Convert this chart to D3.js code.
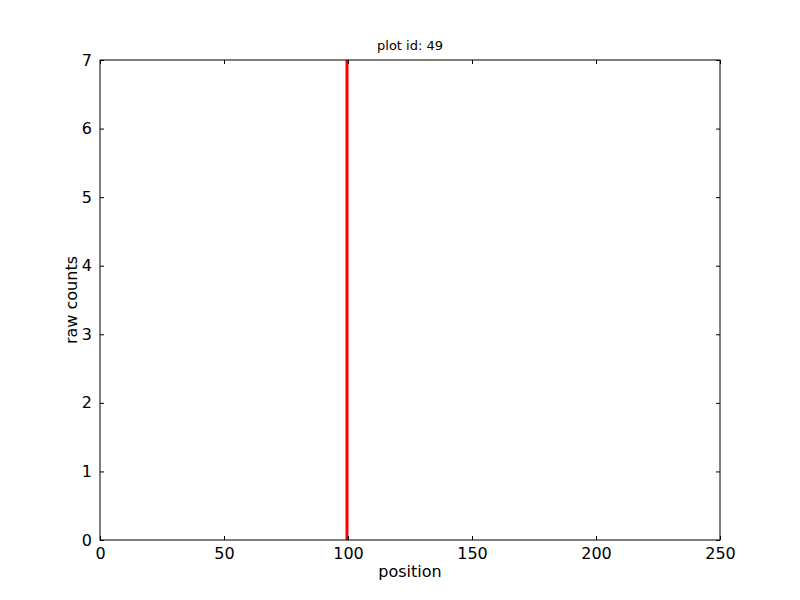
<!DOCTYPE html>
<html>
<head>
<meta charset="utf-8">
<script src="https://cdn.jsdelivr.net/npm/d3@7"></script>
<style>
  body { margin: 0; background: #fff; }
  text { font-family: "DejaVu Sans", sans-serif; fill: #000; }
</style>
</head>
<body>
<div id="chart-area"></div>
<script>
// chart data
const positions = [100];
const rawCounts = [7];
const xTicks = [0, 50, 100, 150, 200, 250];
const yTicks = [0, 1, 2, 3, 4, 5, 6, 7];
const plotTitle = "plot id: 49";

// margins
const margin = { left: 100, right: 80, top: 60, bottom: 60 };
const width = 800 - margin.left - margin.right;
const height = 600 - margin.top - margin.bottom;

const svg = d3.select("#chart-area")
  .append("svg")
    .attr("width", 800)
    .attr("height", 600);

const g = svg.append("g")
  .attr("transform", "translate(" + margin.left + "," + margin.top + ")");

// scales
const x = d3.scaleLinear().domain([0, 250]).range([0, width]);
const y = d3.scaleLinear().domain([0, 7]).range([height, 0]);

// red line(s) for the counts
positions.forEach(function(p, i) {
  g.append("line")
    .attr("x1", x(p) - 1)
    .attr("x2", x(p) - 1)
    .attr("y1", y(0))
    .attr("y2", y(rawCounts[i]))
    .attr("stroke", "#ff0000")
    .attr("stroke-width", 3);
});

// axes, ticks pointing inwards
const tickLen = 4;
g.append("g")
  .attr("transform", "translate(0," + height + ")")
  .call(d3.axisBottom(x).tickValues(xTicks).tickSizeInner(-tickLen).tickSizeOuter(0).tickPadding(8))
  .call(function(a) { a.select(".domain").remove(); })
  .selectAll("text").attr("font-size", "16px").attr("font-family", "DejaVu Sans");

g.append("g")
  .call(d3.axisTop(x).tickValues(xTicks).tickSizeInner(-tickLen).tickSizeOuter(0).tickFormat(""))
  .call(function(a) { a.select(".domain").remove(); });

g.append("g")
  .call(d3.axisLeft(y).tickValues(yTicks).tickFormat(d3.format("d")).tickSizeInner(-tickLen).tickSizeOuter(0).tickPadding(8))
  .call(function(a) { a.select(".domain").remove(); })
  .selectAll("text").attr("font-size", "16px").attr("font-family", "DejaVu Sans");

g.append("g")
  .attr("transform", "translate(" + width + ",0)")
  .call(d3.axisRight(y).tickValues(yTicks).tickSizeInner(-tickLen).tickSizeOuter(0).tickFormat(""))
  .call(function(a) { a.select(".domain").remove(); });

g.selectAll(".tick line").attr("stroke", "#000");

// frame
g.append("rect")
  .attr("x", 0).attr("y", 0)
  .attr("width", width).attr("height", height)
  .attr("fill", "none")
  .attr("stroke", "#000")
  .attr("stroke-width", 1);

// labels
g.append("text")
  .attr("x", width / 2)
  .attr("y", height + 37)
  .attr("font-size", "16px")
  .attr("text-anchor", "middle")
  .text("position");

g.append("text")
  .attr("transform", "translate(-23," + (height / 2) + ") rotate(-90)")
  .attr("font-size", "16px")
  .attr("text-anchor", "middle")
  .text("raw counts");

g.append("text")
  .attr("x", width / 2)
  .attr("y", -10)
  .attr("font-size", "13px")
  .attr("text-anchor", "middle")
  .text(plotTitle);
</script>
</body>
</html>
